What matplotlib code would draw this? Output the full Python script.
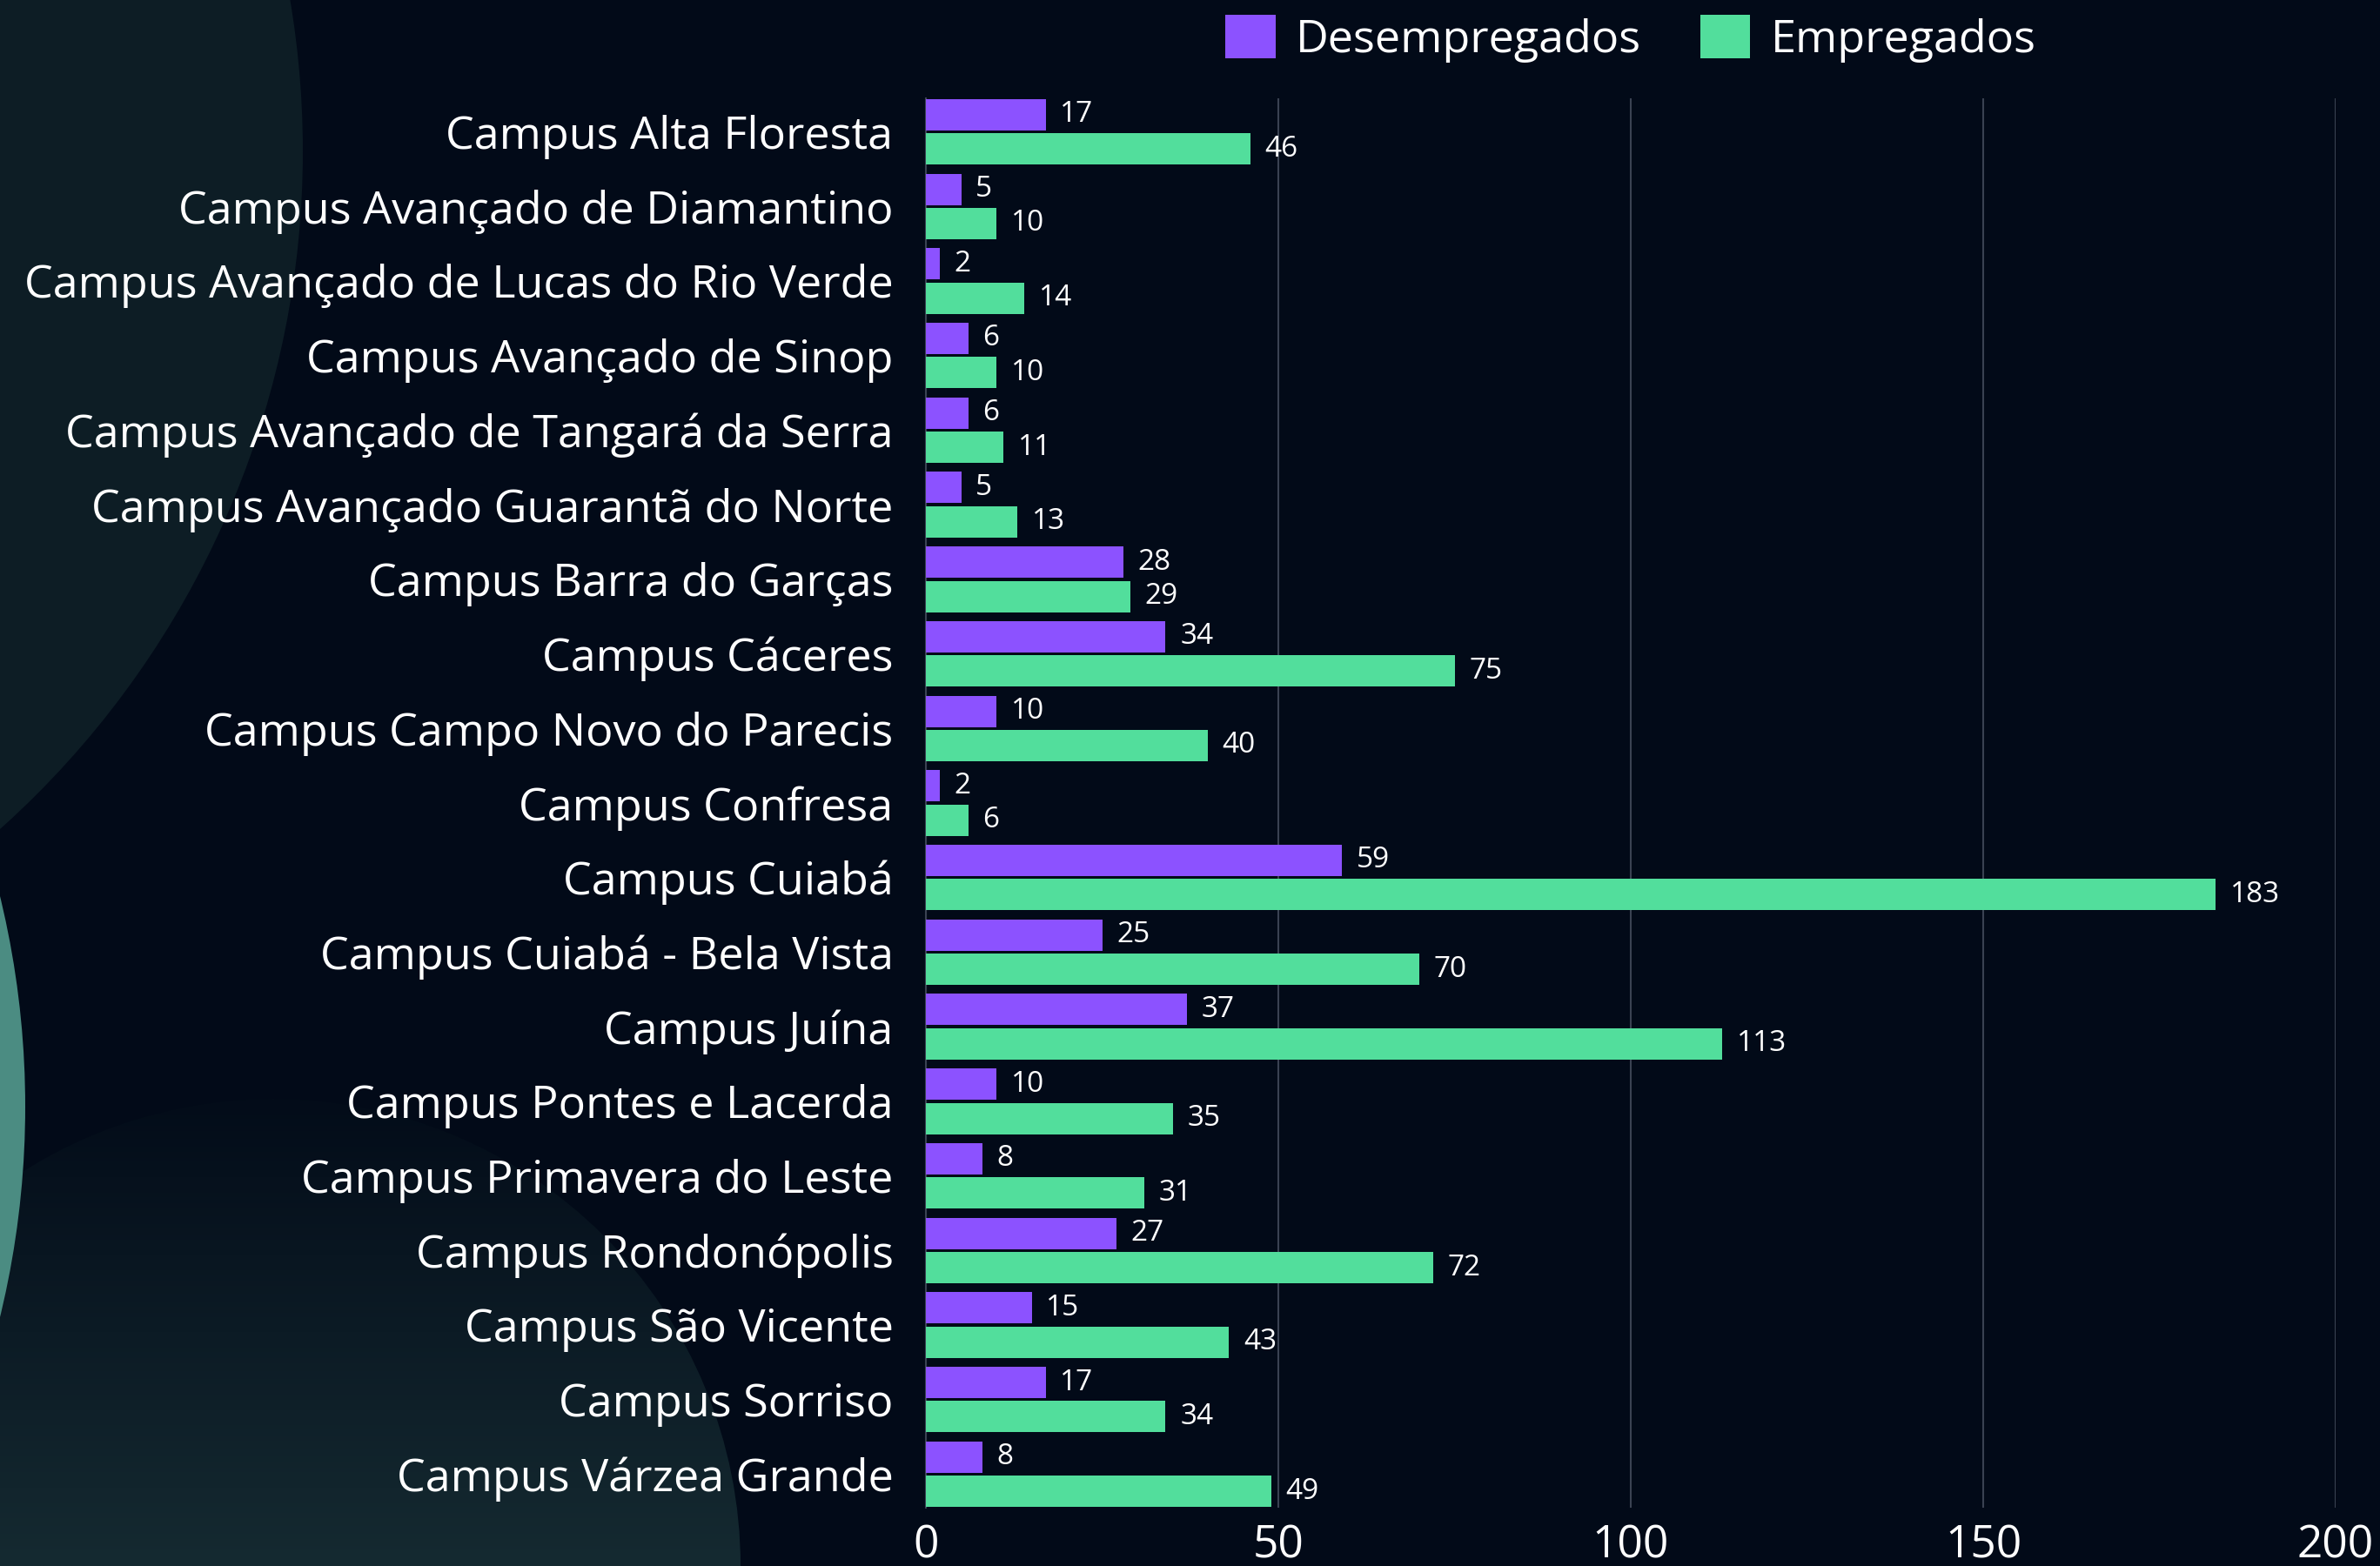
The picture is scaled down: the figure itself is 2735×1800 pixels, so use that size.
import numpy as np
import matplotlib
matplotlib.use("Agg")
import matplotlib.pyplot as plt
from matplotlib.patches import Circle

categories = [
    "Campus Alta Floresta",
    "Campus Avançado de Diamantino",
    "Campus Avançado de Lucas do Rio Verde",
    "Campus Avançado de Sinop",
    "Campus Avançado de Tangará da Serra",
    "Campus Avançado Guarantã do Norte",
    "Campus Barra do Garças",
    "Campus Cáceres",
    "Campus Campo Novo do Parecis",
    "Campus Confresa",
    "Campus Cuiabá",
    "Campus Cuiabá - Bela Vista",
    "Campus Juína",
    "Campus Pontes e Lacerda",
    "Campus Primavera do Leste",
    "Campus Rondonópolis",
    "Campus São Vicente",
    "Campus Sorriso",
    "Campus Várzea Grande",
]
desempregados = [17, 5, 2, 6, 6, 5, 28, 34, 10, 2, 59, 25, 37, 10, 8, 27, 15, 17, 8]
empregados = [46, 10, 14, 10, 11, 13, 29, 75, 40, 6, 183, 70, 113, 35, 31, 72, 43, 34, 49]
series_names = ["Desempregados", "Empregados"]
xticks = [0, 50, 100, 150, 200]

BG = "#020a18"
PURPLE = "#8c52ff"
GREEN = "#52de9c"
GRID = "#3a4252"

plt.rcParams['font.family'] = ['Open Sans', 'DejaVu Sans']

W, H = 2735, 1800
fig = plt.figure(figsize=(W / 100, H / 100), dpi=100, facecolor=BG)

# background decorations (pixel coordinates)
bg = fig.add_axes([0, 0, 1, 1], zorder=-5)
bg.set_xlim(0, W)
bg.set_ylim(H, 0)
bg.axis("off")
bg.set_facecolor(BG)
bg.add_patch(Circle((-698, 174), 1046, color="#0d1d25", lw=0))
grad = np.linspace(0, 1, 256).reshape(-1, 1)
c0 = np.array([0x03, 0x0c, 0x19]) / 255
c1 = np.array([0x15, 0x2a, 0x31]) / 255
img = c0 + (c1 - c0) * grad[..., None]
img = np.repeat(img, 2, axis=1)
circ = Circle((314, 1800), 537, transform=bg.transData, facecolor="none", lw=0)
bg.add_patch(circ)
im = bg.imshow(img, extent=(0, 900, 1800, 1263), aspect="auto", zorder=1)
im.set_clip_path(circ)
bg.add_patch(Circle((-995, 1272), 1024, color="#4b8c82", lw=0, zorder=2))

ax = fig.add_axes([1064 / W, 1 - 1733 / H, (2684 - 1064) / W, (1733 - 113) / H])
ax.set_facecolor("none")

y = np.arange(len(categories))
bh = 0.44
b1 = ax.barh(y - bh / 2 - 0.01, desempregados, height=bh - 0.02, color=PURPLE, label=series_names[0], zorder=3)
b2 = ax.barh(y + bh / 2 + 0.01, empregados, height=bh - 0.02, color=GREEN, label=series_names[1], zorder=3)

for bars, vals in ((b1, desempregados), (b2, empregados)):
    for rect, v in zip(bars, vals):
        ax.annotate(str(v), (rect.get_width(), rect.get_y() + rect.get_height() / 2),
                    xytext=(12, 0), textcoords="offset points", ha="left", va="center",
                    color="white", fontsize=24)

ax.set_xlim(0, 200)
ax.set_ylim(len(categories) - 1 + 0.45, -0.45)
ax.set_yticks(y)
ax.set_yticklabels(categories)
ax.set_xticks(xticks)
ax.set_xticklabels([str(t) for t in xticks])
ax.tick_params(axis="y", length=0, pad=27, labelsize=37.5, labelcolor="white")
ax.tick_params(axis="x", length=0, pad=13, labelsize=37, labelcolor="white")
for lab in ax.get_yticklabels():
    lab.set_va("center_baseline")
ax.grid(axis="x", color=GRID, lw=1.5, zorder=0)
for s in ["top", "right", "bottom"]:
    ax.spines[s].set_visible(False)
ax.spines["left"].set_color(GRID)
ax.spines["left"].set_linewidth(1.5)

leg = ax.legend(loc="upper center", bbox_to_anchor=(0.5, 1.072), ncol=2, frameon=False,
                fontsize=37.5, labelcolor="white", handlelength=1.1, handleheight=1.1,
                handletextpad=0.45, columnspacing=1.3, borderaxespad=0)

fig.savefig("out.png", dpi=100, facecolor=BG)
